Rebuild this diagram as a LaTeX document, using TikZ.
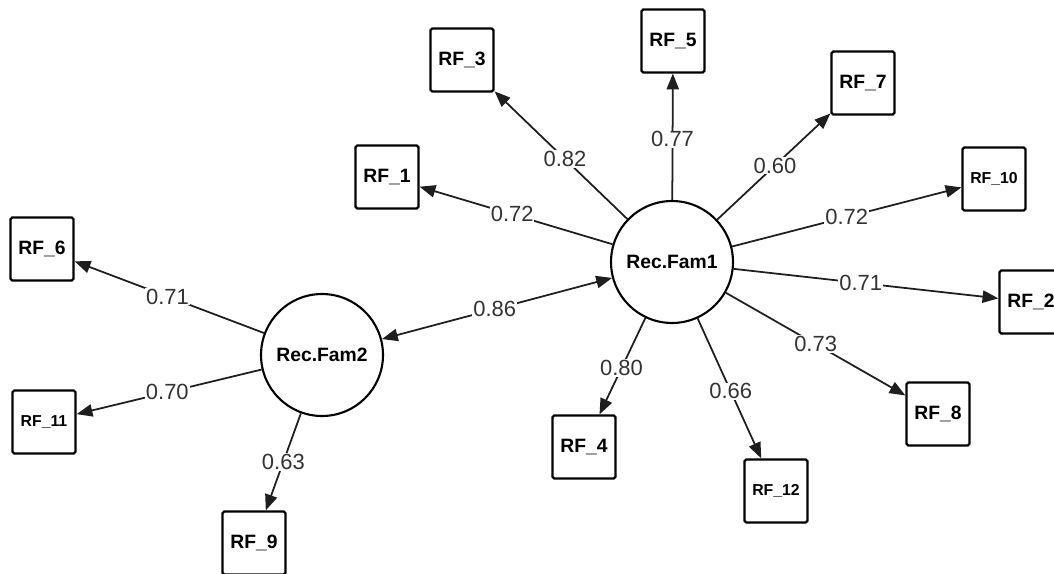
\documentclass[tikz,border=0pt]{standalone}
\usepackage{fontspec}
\setmainfont{Liberation Sans}
\usetikzlibrary{arrows.meta}
\definecolor{edgecol}{HTML}{1E1E1E}
\definecolor{labcol}{HTML}{333333}
\begin{document}
\begin{tikzpicture}[x=0.02cm,y=-0.02cm,
  ind/.style={draw=black,line width=1.3pt,rounded corners=1pt,minimum size=1.26cm,inner sep=0pt,font=\fontsize{11}{13}\selectfont\bfseries},
  indsmall/.style={ind,font=\fontsize{9}{11}\selectfont\bfseries},
  lat/.style={draw=black,circle,line width=1.2pt,minimum size=2.44cm,inner sep=0pt,font=\fontsize{11}{13}\selectfont\bfseries},
  load/.style={draw=edgecol,line width=1pt,-{Triangle[length=9pt,width=7pt]}},
  cov/.style={draw=edgecol,line width=1pt,{Triangle[length=9pt,width=7pt]}-{Triangle[length=9pt,width=7pt]}},
  wt/.style={fill=white,inner sep=0.5pt,text=labcol,font=\fontsize{12.5}{14}\selectfont}
]
\clip (0,0) rectangle (1054,574);
\fill[white] (0,0) rectangle (1054,574);
% latent variables
\node[lat] (f1) at (672,262) {Rec.Fam1};
\node[lat] (f2) at (322,355) {Rec.Fam2};
% indicators
\node[ind] (rf3) at (462,60) {RF\_3};
\node[ind] (rf1) at (387,177) {RF\_1};
\node[ind] (rf5) at (673,41) {RF\_5};
\node[ind] (rf7) at (863,83) {RF\_7};
\node[indsmall] (rf10) at (994,179) {RF\_10};
\node[ind] (rf2) at (1031,302) {RF\_2};
\node[ind] (rf8) at (938,414) {RF\_8};
\node[indsmall] (rf12) at (776,491) {RF\_12};
\node[ind] (rf4) at (584,447) {RF\_4};
\node[ind] (rf6) at (42,249) {RF\_6};
\node[indsmall] (rf11) at (44,422) {RF\_11};
\node[ind] (rf9) at (254,543) {RF\_9};
% loadings
\draw[load] (f1) -- node[wt,pos=0.47] {0.82} (rf3);
\draw[load] (f1) -- node[wt,pos=0.48] {0.77} (rf5);
\draw[load] (f1) -- node[wt,pos=0.51] {0.60} (rf7);
\draw[load] (f1) -- node[wt,pos=0.50] {0.72} (rf10);
\draw[load] (f1) -- node[wt,pos=0.48] {0.71} (rf2);
\draw[load] (f1) -- node[wt,pos=0.50] {0.73} (rf8);
\draw[load] (f1) -- node[wt,pos=0.52] {0.66} (rf12);
\draw[load] (f1) -- node[wt,pos=0.52] {0.80} (rf4);
\draw[load] (f1) -- node[wt,pos=0.52] {0.72} (rf1);
\draw[cov] (f2) -- node[wt,pos=0.49] {0.86} (f1);
\draw[load] (f2) -- node[wt,pos=0.51] {0.71} (rf6);
\draw[load] (f2) -- node[wt,pos=0.51] {0.70} (rf11);
\draw[load] (f2) -- node[wt,pos=0.50] {0.63} (rf9);
\end{tikzpicture}
\end{document}
